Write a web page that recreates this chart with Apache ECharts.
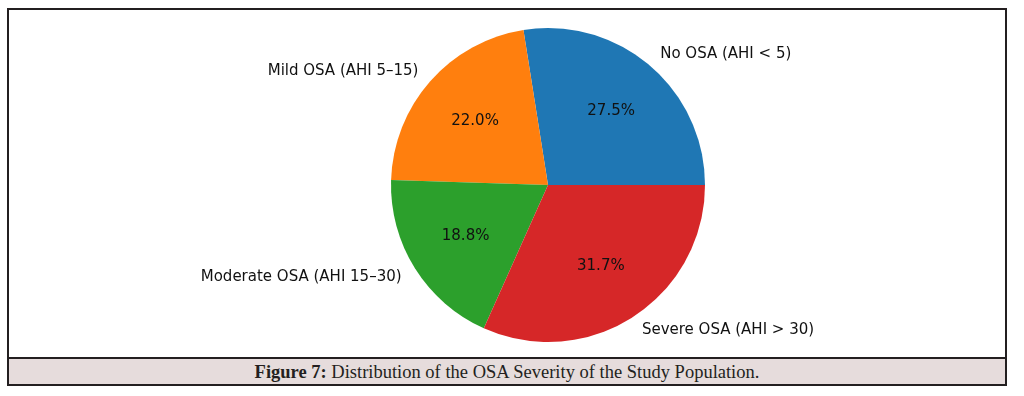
<!DOCTYPE html>
<html>
<head>
<meta charset="utf-8">
<script src="https://cdn.jsdelivr.net/npm/echarts@6/dist/echarts.min.js"></script>
<style>
  html, body { margin: 0; padding: 0; background: #fff; }
  #wrap { position: relative; width: 1024px; height: 396px; }
  #chart { position: absolute; left: 0; top: 0; width: 1024px; height: 396px; }
  #frame {
    position: absolute; left: 7px; top: 8px; width: 996px; height: 374px;
    border: 2px solid #231f20; box-sizing: content-box;
  }
  #caption {
    position: absolute; left: 0; right: 0; top: 347px; height: 25px;
    border-top: 2px solid #231f20; background: #e6dcdc;
    font-family: "Liberation Serif", "DejaVu Serif", serif; font-size: 18.5px;
    color: #231f20; text-align: center; line-height: 26px;
  }
</style>
</head>
<body>
<div id="wrap">
  <div id="chart"></div>
  <div id="frame">
    <div id="caption"><b>Figure 7:</b> Distribution of the OSA Severity of the Study Population.</div>
  </div>
</div>
<script>
const categories = ['No OSA (AHI < 5)', 'Mild OSA (AHI 5–15)', 'Moderate OSA (AHI 15–30)', 'Severe OSA (AHI > 30)'];
const shares = [27.5, 22.0, 18.8, 31.7];
const colors = ['#1f77b4', '#ff7f0e', '#2ca02c', '#d62728'];

const R = 157;
const center = [548, 185];

const pieData = categories.map((name, i) => ({
    name: name,
    value: shares[i],
    itemStyle: { color: colors[i] }
}));

const myChart = echarts.init(document.getElementById('chart'));
const option = {
    animation: false,
    series: [
        {
            // wedges and outer names
            type: 'pie',
            center: center,
            radius: [0, R],
            startAngle: 0,
            clockwise: false,
            avoidLabelOverlap: false,
            silent: true,
            data: pieData,
            label: {
                show: true,
                position: 'outside',
                distanceToLabelLine: 0,
                fontFamily: 'DejaVu Sans',
                fontSize: 15,
                color: '#111',
                formatter: '{b}'
            },
            labelLine: { show: false, length: R * 0.1, length2: 0 }
        },
        {
            // invisible copy so the inside label lands at 0.6 R
            type: 'pie',
            center: center,
            radius: [0, R * 1.2],
            startAngle: 0,
            clockwise: false,
            silent: true,
            data: categories.map((name, i) => ({
                name: name,
                value: shares[i],
                itemStyle: { color: 'rgba(0,0,0,0)' }
            })),
            label: {
                show: true,
                position: 'inside',
                fontFamily: 'DejaVu Sans',
                fontSize: 15,
                color: '#111',
                formatter: p => p.value.toFixed(1) + '%'
            },
            labelLine: { show: false }
        }
    ]
};
myChart.setOption(option);
</script>
</body>
</html>
